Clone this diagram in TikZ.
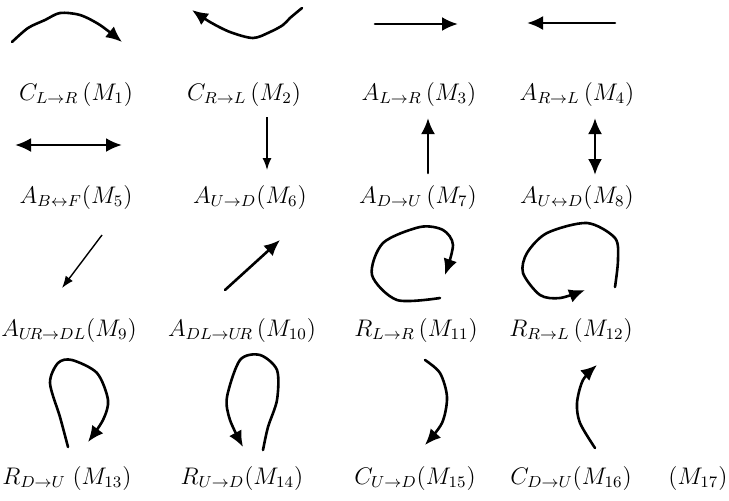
\documentclass[tikz,border=0pt]{standalone}
\usepackage{amsmath,amssymb}
\usepackage{tikz}
\usetikzlibrary{arrows.meta}

\begin{document}
\begin{tikzpicture}[x=0.5pt,y=-0.5pt,>={Latex[length=8pt,width=7pt]},
  mv/.style={line width=1.3pt,->,line cap=round,line join=round},
  thin mv/.style={line width=0.7pt,->,>={Latex[length=6pt,width=4.5pt]}},
  lbl/.style={font=\large,inner sep=1pt}]
\useasboundingbox (0,0) rectangle (729,500);
% labels
\node[lbl] (m1) at (76,94) {$C_{L\to R}\,(M_1)$};
\node[lbl] (m2) at (244,94) {$C_{R\to L}\,(M_2)$};
\node[lbl] (m3) at (419,94) {$A_{L\to R}\,(M_3)$};
\node[lbl] (m4) at (577,94) {$A_{R\to L}\,(M_4)$};
\node[lbl] (m5) at (76,197) {$A_{B\leftrightarrow F}(M_5)$};
\node[lbl] (m6) at (250,197) {$A_{U\to D}(M_6)$};
\node[lbl] (m7) at (418,197) {$A_{D\to U}\,(M_7)$};
\node[lbl] (m8) at (577,197) {$A_{U\leftrightarrow D}(M_8)$};
\node[lbl] (m9) at (69,330) {$A_{U\!R\to DL}(M_9)$};
\node[lbl] (m10) at (242,330) {$A_{DL\to U\!R}\,(M_{10})$};
\node[lbl] (m11) at (416,330) {$R_{L\to R}\,(M_{11})$};
\node[lbl] (m12) at (571,330) {$R_{R\to L}\,(M_{12})$};
\node[lbl] (m13) at (67,478) {$R_{D\to U}\;(M_{13})$};
\node[lbl] (m14) at (242,478) {$R_{U\to D}(M_{14})$};
\node[lbl] (m15) at (415,478) {$C_{U\to D}(M_{15})$};
\node[lbl] (m16) at (571,478) {$C_{D\to U}(M_{16})$};
\node[lbl] (m17) at (698,478) {$(M_{17})$};
% row 1
\draw[mv] plot[smooth] coordinates {(12,42) (28,28) (45,20) (60,13) (80,15) (100,25) (122,42)};
\draw[mv] plot[smooth] coordinates {(302,8) (290,18) (283,25) (270,32) (253,38) (230,32) (210,22) (192,10)};
\draw[mv] (375,24) -- (458,24);
\draw[mv] (615,23) -- (527,23);
% row 2
\draw[mv,<->] (15,145) -- (122,145);
\draw[thin mv] (267,117) -- (267,170);
\draw[mv] (428,173) -- (428,118);
\draw[mv,<->] (595,175) -- (595,118);
% row 3
\draw[thin mv] (102,235) -- (62,288);
\draw[mv] (225,290) -- (280,240);
\draw[mv] plot[smooth] coordinates {(440,298) (397,300) (372,275) (383,243) (420,227) (443,230) (453,245) (445,275)};
\draw[mv] plot[smooth] coordinates {(615,287) (618,260) (615,238) (587,223) (547,233) (527,253) (523,273) (540,295) (560,298) (585,290)};
% row 4
\draw[mv] plot[smooth] coordinates {(68,447) (60,417) (50,383) (58,363) (72,360) (97,373) (108,400) (103,420) (88,442)};
\draw[mv] plot[smooth] coordinates {(263,450) (268,427) (277,400) (277,370) (260,355) (240,360) (227,397) (230,420) (243,447)};
\draw[mv] plot[smooth] coordinates {(425,360) (440,373) (447,397) (442,423) (425,445)};
\draw[mv] plot[smooth] coordinates {(595,448) (580,423) (577,403) (583,380) (597,365)};
\end{tikzpicture}
\end{document}
